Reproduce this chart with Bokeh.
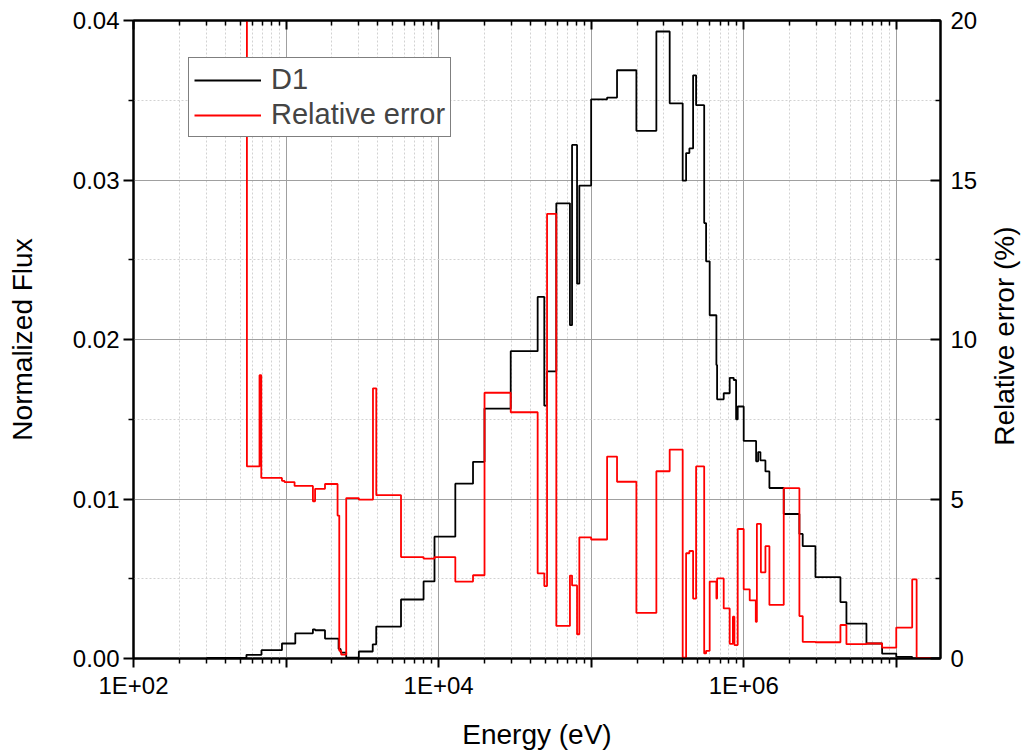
import math
from bokeh.plotting import figure
from bokeh.layouts import row
from bokeh.models import (Range1d, LinearAxis, LogAxis, FixedTicker,
                          NumeralTickFormatter, Legend, LegendItem, Label)
from bokeh.embed import file_html
from bokeh.resources import INLINE

# ---------------- data ----------------
edges_d1 = [300, 550, 690, 940, 1150, 1500, 1550, 1800, 2210, 2280, 2480, 3000,
            3700, 3900, 5670, 7970, 9400, 12870, 16810, 20000, 29700, 44600,
            49300, 51400, 59100, 72600, 74960, 80830, 83670, 1.0e5, 1.272e5,
            1.478e5, 1.979e5, 2.676e5, 3.272e5, 3.981e5, 4.192e5, 4.405e5,
            4.659e5, 4.875e5, 5.508e5, 5.668e5, 5.984e5, 6.622e5, 6.692e5,
            7.395e5, 8.094e5, 8.599e5, 8.916e5, 9.135e5, 1.0e6, 1.206e6,
            1.243e6, 1.287e6, 1.388e6, 1.474e6, 1.83e6, 2.318e6, 2.437e6,
            2.953e6, 4.306e6, 4.714e6, 6.377e6, 8.08e6, 1.0e7, 1.272e7, 1.95e7]
flux_d1 = [0.00003, 0.00023, 0.00052, 0.00094, 0.00158, 0.00183, 0.00177,
           0.00125, 0.0006, 0.00037, 0.00006, 0.00044, 0.00089, 0.0020, 0.0037,
           0.00483, 0.00764, 0.01096, 0.01233, 0.01567, 0.01927, 0.02267,
           0.01585, 0.0180, 0.02854, 0.0209, 0.0322, 0.0235, 0.02965, 0.03506,
           0.03517, 0.03688, 0.03308, 0.03931, 0.03481, 0.02996, 0.03169,
           0.03198, 0.03656, 0.03469, 0.0273, 0.0249, 0.02152, 0.0184, 0.01625,
           0.01663, 0.0176, 0.01746, 0.0150, 0.0158, 0.01364, 0.01236, 0.01294,
           0.01242, 0.01173, 0.01069, 0.00906, 0.00781, 0.00704, 0.0051,
           0.00354, 0.00219, 0.00094, 0.00031, 0.0001, 0.00001]

edges_err = [300, 554, 670, 688, 940, 977, 1137, 1500, 1550, 1800, 2176, 2233,
             2300, 2480, 3000, 3714, 3904, 5670, 7970, 9400, 12870, 16810,
             20000, 29700, 44600, 49300, 51400, 59100, 72600, 74960, 80830,
             83670, 1.0e5, 1.272e5, 1.478e5, 1.979e5, 2.676e5, 3.272e5,
             3.981e5, 4.192e5, 4.405e5, 4.659e5, 4.875e5, 5.508e5, 5.668e5,
             5.984e5, 6.622e5, 6.692e5, 7.395e5, 8.094e5, 8.496e5, 8.69e5,
             9.135e5, 1.0e6, 1.095e6, 1.2e6, 1.22e6, 1.296e6, 1.388e6, 1.474e6,
             1.83e6, 2.318e6, 2.437e6, 2.953e6, 4.306e6, 4.714e6, 6.377e6,
             8.08e6, 1.0e7, 1.272e7, 1.36e7, 1.7e7]
rel_error = [40, 6.02, 8.88, 5.66, 5.57, 5.53, 5.41, 4.93, 5.32, 5.47, 4.48,
             0.24, 0.12, 5.03, 4.98, 8.47, 5.12, 3.18, 3.13, 3.18, 2.41, 2.61,
             8.33, 7.72, 2.67, 2.27, 13.94, 1.02, 2.6, 2.29, 0.76, 3.8, 3.73,
             6.33, 5.54, 1.43, 5.87, 6.55, 0.03, 3.3, 3.37, 1.88, 6.02, 0.16,
             0.24, 2.41, 1.88, 2.51, 1.57, 0.46, 1.31, 0.42, 4.06, 2.17, 1.82,
             1.15, 4.22, 2.7, 3.52, 1.68, 5.34, 1.33, 0.52, 0.51, 1.05, 0.45,
             0.47, 0.34, 0.97, 2.48, 0.02]

x_major = [1e2, 1e3, 1e4, 1e5, 1e6, 1e7]
x_minor = [m * d for d in [1e2, 1e3, 1e4, 1e5, 1e6, 1e7] for m in range(2, 10)]
x_labels = {100: "1E+02", 1000: "", 10000: "1E+04", 100000: "",
            1000000: "1E+06", 10000000: ""}
flux_ticks = [0.0, 0.01, 0.02, 0.03, 0.04]
flux_minor = [0.005, 0.015, 0.025, 0.035]
err_ticks = [0, 5, 10, 15, 20]
err_minor = [2.5, 7.5, 12.5, 17.5]
err_title = "Relative error (%)"

FONT = "Liberation Sans"

p = figure(width=985, height=752, x_axis_type="log",
           x_range=Range1d(100, 1.95e7), y_range=Range1d(0, 0.04),
           output_backend="svg", toolbar_location=None,
           min_border_left=133, min_border_right=45,
           min_border_top=20, min_border_bottom=92)
p.extra_y_ranges = {"err": Range1d(0, 20)}
p.background_fill_color = "white"
p.outline_line_color = "black"
p.outline_line_width = 2

xt = FixedTicker(ticks=x_major, minor_ticks=x_minor)
yt = FixedTicker(ticks=flux_ticks, minor_ticks=flux_minor)

xa = p.xaxis[0]
xa.ticker = xt
xa.major_label_overrides = x_labels
xa.axis_label = "Energy (eV)"
xa.major_tick_out = 9
xa.major_tick_in = 0
xa.minor_tick_out = 5
xa.minor_tick_in = 0
xa.major_label_standoff = 4
xa.axis_label_standoff = 17

ya = p.yaxis[0]
ya.ticker = yt
ya.formatter = NumeralTickFormatter(format="0.00")
ya.axis_label = "Normalized Flux"
ya.major_tick_out = 10
ya.major_tick_in = 0
ya.minor_tick_out = 5
ya.minor_tick_in = 0
ya.major_label_standoff = 4
ya.axis_label_standoff = 32

top = LogAxis(ticker=FixedTicker(ticks=x_major, minor_ticks=x_minor),
              major_label_overrides={k: "" for k in x_labels})
top.major_tick_in = 9
top.major_tick_out = 0
top.minor_tick_in = 5
top.minor_tick_out = 0
p.add_layout(top, "above")

ra = LinearAxis(y_range_name="err",
                ticker=FixedTicker(ticks=err_ticks, minor_ticks=err_minor))
ra.major_tick_in = 10
ra.major_tick_out = 0
ra.minor_tick_in = 5
ra.minor_tick_out = 0
ra.major_label_standoff = 10
p.add_layout(ra, "right")

for ax in [xa, ya, top, ra]:
    ax.axis_line_width = 2
    ax.axis_line_color = "black"
    ax.major_tick_line_width = 2
    ax.minor_tick_line_width = 1.5
    ax.major_tick_line_color = "black"
    ax.minor_tick_line_color = "black"
    ax.major_label_text_font = FONT
    ax.major_label_text_font_size = "24px"
    ax.major_label_text_color = "black"
    ax.axis_label_text_font = FONT
    ax.axis_label_text_font_size = "28px"
    ax.axis_label_text_font_style = "normal"
    ax.axis_label_text_color = "black"

p.xgrid.ticker = xt
p.ygrid.ticker = yt
for g in [p.xgrid[0], p.ygrid[0]]:
    g.grid_line_color = "#a0a0a0"
    g.grid_line_width = 1
    g.minor_grid_line_color = "#d2d2d2"
    g.minor_grid_line_dash = "2 2"
    g.minor_grid_line_width = 1

r1 = p.step(edges_d1, flux_d1 + [flux_d1[-1]], mode="after",
            line_color="black", line_width=1.8)
r2 = p.step(edges_err, rel_error + [rel_error[-1]], mode="after",
            y_range_name="err", line_color="#ff0000", line_width=1.8)

legend = Legend(items=[LegendItem(label="D1", renderers=[r1]),
                       LegendItem(label="Relative error", renderers=[r2])],
                location=(55, 521))
legend.border_line_color = "black"
legend.border_line_width = 1
legend.background_fill_color = "white"
legend.background_fill_alpha = 1
legend.label_text_font = FONT
legend.label_text_font_size = "29px"
legend.glyph_width = 67
legend.glyph_height = 32
legend.label_height = 32
legend.spacing = 2
legend.padding = 5
legend.margin = 0
legend.label_standoff = 10
p.add_layout(legend, "center")

# narrow strip to the right holding the right-hand axis title
p2 = figure(width=36, height=752, x_range=Range1d(0, 36), y_range=Range1d(0, 752),
            output_backend="svg", toolbar_location=None,
            min_border_left=0, min_border_right=0, min_border_top=0,
            min_border_bottom=0)
p2.axis.visible = False
p2.grid.visible = False
p2.outline_line_color = None
p2.add_layout(Label(x=19, y=380, text=err_title, angle=math.pi / 2,
                    angle_units="rad", text_align="center",
                    text_baseline="middle", text_font=FONT,
                    text_font_size="28px", text_color="black"))

open("out.html", "w").write(file_html(row(p, p2), INLINE))
